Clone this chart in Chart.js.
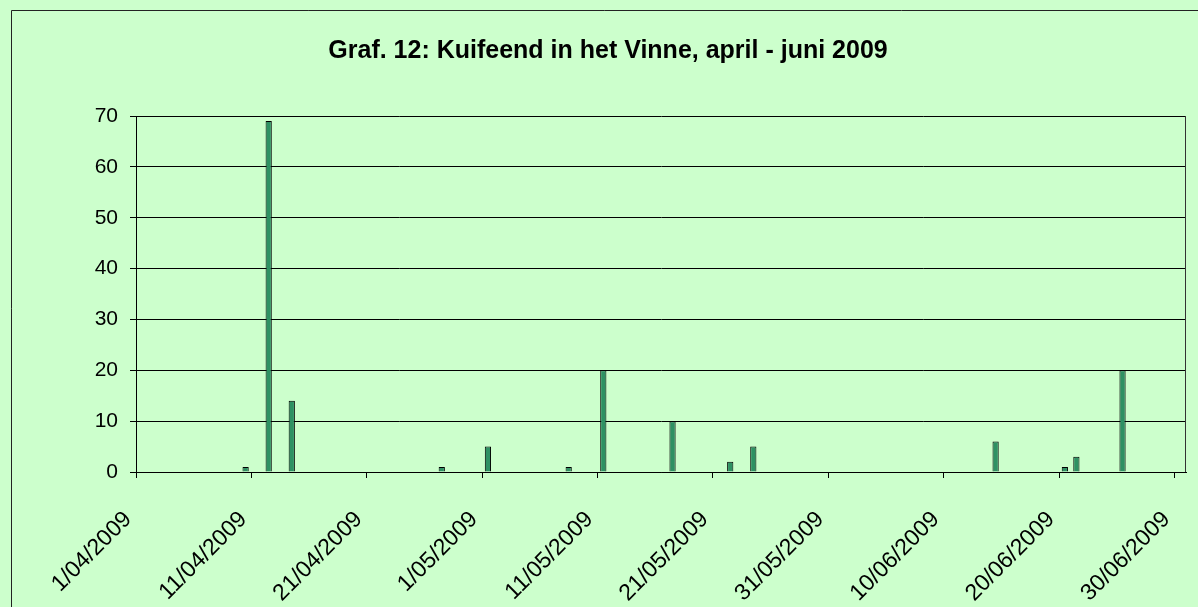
<!DOCTYPE html>
<html>
<head>
<meta charset="utf-8">
<script src="https://cdn.jsdelivr.net/npm/chart.js@4"></script>
<style>
  html, body { margin: 0; padding: 0; background: #ccffcc; }
  #wrap { width: 1198px; height: 607px; }
</style>
</head>
<body>
<div id="wrap"><canvas id="myChart"></canvas></div>
<script>
// observation days and counts (only days with birds seen)
const obsDates = ["10/04/2009", "12/04/2009", "14/04/2009", "27/04/2009", "1/05/2009", "8/05/2009",
  "11/05/2009", "17/05/2009", "22/05/2009", "24/05/2009", "14/06/2009", "20/06/2009", "21/06/2009", "25/06/2009"];
const counts = [1, 69, 14, 1, 5, 1, 20, 10, 2, 5, 6, 1, 3, 20];

const tickLabels = ["1/04/2009", "11/04/2009", "21/04/2009", "1/05/2009", "11/05/2009",
  "21/05/2009", "31/05/2009", "10/06/2009", "20/06/2009", "30/06/2009"];

const firstDay = "1/04/2009";
const dayCount = 91; // 1 april - 30 juni

const toDate = s => {
  const [d, m, y] = s.split("/").map(Number);
  return Date.UTC(y, m - 1, d);
};
const dayIndex = s => Math.round((toDate(s) - toDate(firstDay)) / 86400000);

const tickDays = tickLabels.map(dayIndex);

// every date gets a one-day slot, bar sits in the middle of it
const points = obsDates.map((d, i) => ({ x: dayIndex(d) + 0.5, y: counts[i] }));

const fontFamily = "'Liberation Sans', Arial, sans-serif";

const frame = {
  id: "frame",
  beforeDraw(chart) {
    const { ctx, width, height } = chart;
    ctx.save();
    ctx.fillStyle = "#ccffcc";
    ctx.fillRect(0, 0, width, height);
    ctx.strokeStyle = "#222";
    ctx.lineWidth = 1;
    ctx.beginPath();
    ctx.moveTo(11.5, height);
    ctx.lineTo(11.5, 10.5);
    ctx.lineTo(width, 10.5);
    ctx.stroke();
    ctx.restore();
  },
  afterDraw(chart) {
    const { ctx, chartArea } = chart;
    ctx.save();
    ctx.strokeStyle = "#333";
    ctx.lineWidth = 1;
    ctx.beginPath();
    ctx.moveTo(Math.round(chartArea.right) - 0.5, chartArea.top);
    ctx.lineTo(Math.round(chartArea.right) - 0.5, chartArea.bottom);
    ctx.stroke();
    ctx.restore();
  },
};

new Chart("myChart", {
  type: "bar",
  data: {
    datasets: [
      {
        label: "Kuifeend",
        data: points,
        backgroundColor: "#2e9163",
        borderColor: "#000",
        borderWidth: 1,
        barPercentage: 0.54,
        categoryPercentage: 1,
      },
    ],
  },
  plugins: [frame],
  options: {
    responsive: true,
    maintainAspectRatio: false,
    animation: false,
    layout: { padding: { left: 30, right: 12, top: 0, bottom: 0 } },
    plugins: {
      legend: { display: false },
      tooltip: { enabled: false },
      title: {
        display: true,
        text: "Graf. 12: Kuifeend in het Vinne, april - juni 2009",
        color: "#000",
        font: { family: fontFamily, size: 25, weight: "bold" },
        padding: { top: 36, bottom: 50 },
      },
    },
    scales: {
      x: {
        type: "linear",
        offset: false,
        min: 0,
        max: dayCount,
        afterBuildTicks: scale => {
          scale.ticks = tickDays.map(v => ({ value: v }));
        },
        afterFit: scale => {
          scale.paddingLeft = 0;
          scale.paddingRight = 0;
          scale.height = 135;
        },
        ticks: {
          autoSkip: false,
          minRotation: 45,
          maxRotation: 45,
          color: "#000",
          font: { family: fontFamily, size: 23 },
          padding: 28,
          labelOffset: -8,
          callback: value => tickLabels[tickDays.indexOf(value)],
        },
        grid: { offset: false, drawOnChartArea: false, drawTicks: true, tickLength: 6, color: "#000" },
        border: { display: true, color: "#000" },
      },
      y: {
        min: 0,
        max: 70,
        afterFit: scale => {
          scale.width = 106;
        },
        ticks: { stepSize: 10, color: "#000", font: { family: fontFamily, size: 21 }, padding: 12 },
        grid: { color: "#000", tickLength: 6 },
        border: { display: true, color: "#000" },
      },
    },
  },
});
</script>
</body>
</html>
